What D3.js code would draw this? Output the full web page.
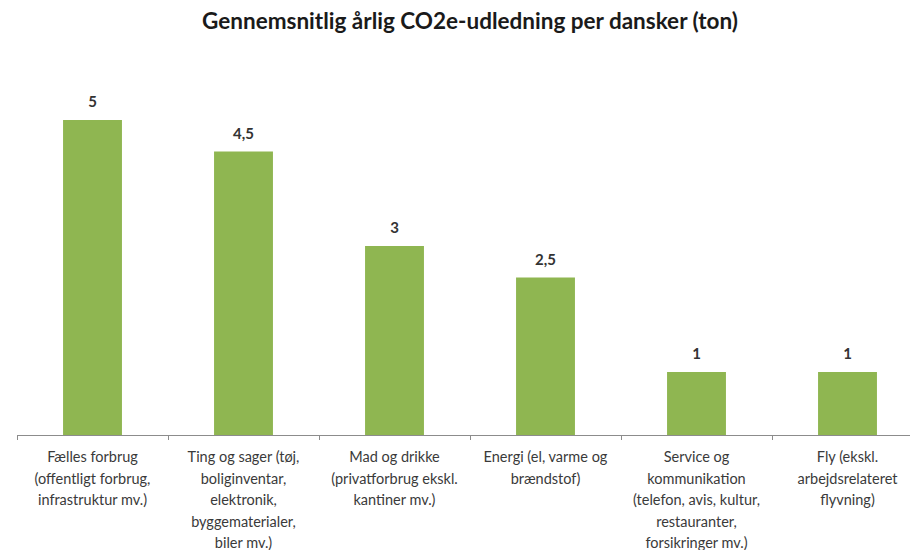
<!DOCTYPE html>
<html lang="da">
  <head>
    <meta charset="UTF-8">
    <title>Gennemsnitlig årlig CO2e-udledning per dansker</title>
    <style>
      body { margin: 0; background: #fff; }
      svg text { font-family: Lato, "Open Sans", sans-serif; }
    </style>
  </head>
  <body>
    <div id="chart"></div>
    <script src="https://d3js.org/d3.v7.js"></script>
    <script>
      // data
      var categories = ["Fælles forbrug", "Ting og sager", "Mad og drikke", "Energi", "Service og kommunikation", "Fly"];
      var values = [5, 4.5, 3, 2.5, 1, 1];
      var valueLabels = ["5", "4,5", "3", "2,5", "1", "1"];
      var tickLabels = [
        ["Fælles forbrug", "(offentligt forbrug,", "infrastruktur mv.)"],
        ["Ting og sager (tøj,", "boliginventar,", "elektronik,", "byggematerialer,", "biler mv.)"],
        ["Mad og drikke", "(privatforbrug ekskl.", "kantiner mv.)"],
        ["Energi (el, varme og", "brændstof)"],
        ["Service og", "kommunikation", "(telefon, avis, kultur,", "restauranter,", "forsikringer mv.)"],
        ["Fly  (ekskl.", "arbejdsrelateret", "flyvning)"]
      ];

      var W = 910, H = 550;
      var svg = d3.select("#chart").append("svg")
          .attr("width", W)
          .attr("height", H);

      svg.append("text")
          .attr("x", 470)
          .attr("y", 29)
          .attr("text-anchor", "middle")
          .style("font-size", "22.5px")
          .style("font-weight", "bold")
          .style("fill", "#1a1a1a")
          .text("Gennemsnitlig årlig CO2e-udledning per dansker (ton)");

      var x = d3.scaleBand()
          .domain(categories)
          .range([17, 17 + 6 * 151])
          .paddingInner(0.61)
          .paddingOuter(0.305);

      var y = d3.scaleLinear()
          .domain([0, 5])
          .range([435, 120]);

      // bars
      svg.selectAll("rect.bar")
          .data(values)
          .enter()
          .append("rect")
            .attr("class", "bar")
            .attr("x", function(d, i){ return x(categories[i]) })
            .attr("y", function(d){ return y(d) })
            .attr("width", x.bandwidth())
            .attr("height", function(d){ return y(0) - y(d) })
            .style("fill", "#8fb651");

      // value labels
      svg.selectAll("text.val")
          .data(values)
          .enter()
          .append("text")
            .attr("class", "val")
            .attr("x", function(d, i){ return x(categories[i]) + x.bandwidth() / 2 })
            .attr("y", function(d){ return y(d) - 13 })
            .attr("text-anchor", "middle")
            .style("font-size", "15px")
            .style("font-weight", "bold")
            .style("fill", "#333")
            .text(function(d, i){ return valueLabels[i] });

      // x axis with tick marks between categories
      var axis = svg.append("g");
      axis.append("line")
          .attr("x1", 17).attr("x2", W)
          .attr("y1", y(0) + 0.5).attr("y2", y(0) + 0.5)
          .style("stroke", "#8c8c8c");
      axis.selectAll("line.tick")
          .data(d3.range(categories.length + 1))
          .enter()
          .append("line")
            .attr("class", "tick")
            .attr("x1", function(i){ return 17.5 + i * x.step() })
            .attr("x2", function(i){ return 17.5 + i * x.step() })
            .attr("y1", y(0))
            .attr("y2", y(0) + 5)
            .style("stroke", "#8c8c8c");

      // category labels
      var lab = svg.selectAll("text.cat")
          .data(tickLabels)
          .enter()
          .append("text")
            .attr("class", "cat")
            .attr("text-anchor", "middle")
            .style("font-size", "14.5px")
            .style("fill", "#3a3a3a");
      lab.selectAll("tspan")
          .data(function(d, i){ return d.map(function(t){ return {t: t, i: i} }) })
          .enter()
          .append("tspan")
            .attr("x", function(d){ return x(categories[d.i]) + x.bandwidth() / 2 })
            .attr("y", function(d, j){ return 462 + j * 21.5 })
            .text(function(d){ return d.t });
    </script>
  </body>
</html>
